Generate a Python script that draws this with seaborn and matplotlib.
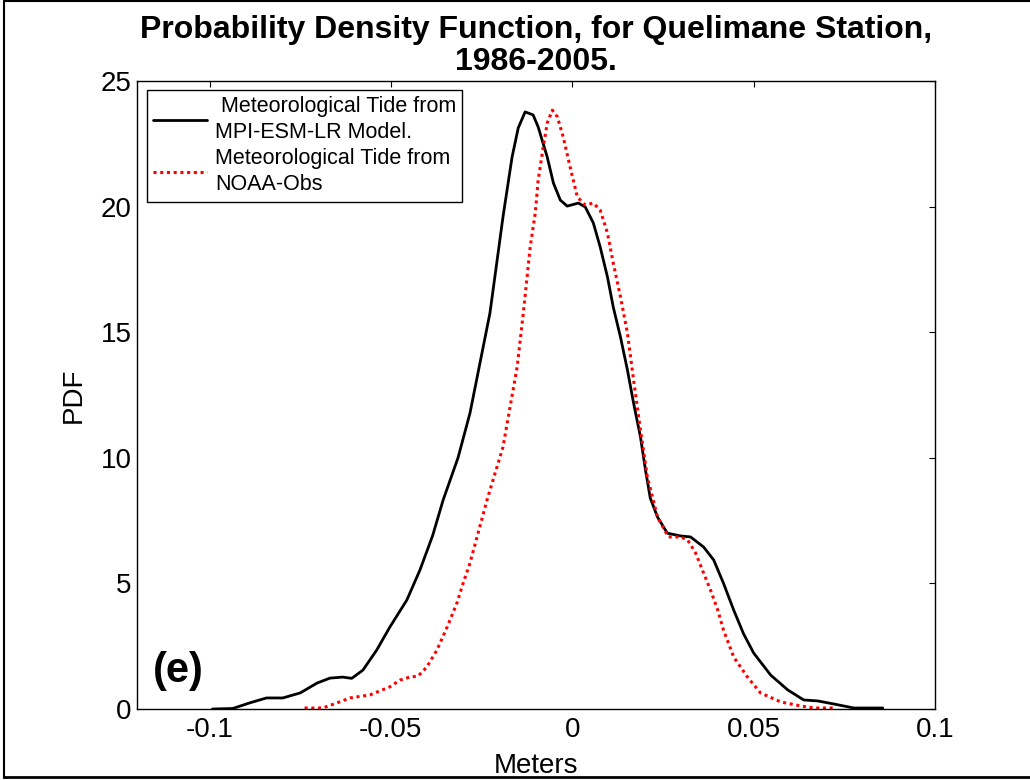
import matplotlib
matplotlib.use("Agg")
import matplotlib.pyplot as plt
from matplotlib.lines import Line2D
import seaborn as sns
import pandas as pd

# Model (MPI-ESM-LR) PDF
x_model = [-0.0992, -0.0936, -0.0890, -0.0843, -0.0798, -0.0750, -0.0704, -0.0668,
           -0.0633, -0.0608, -0.0577, -0.0539, -0.0503, -0.0456, -0.0420, -0.0385,
           -0.0356, -0.0315, -0.0282, -0.0227, -0.0191, -0.0166, -0.0149, -0.0130,
           -0.0108, -0.0094, -0.0069, -0.0052, -0.0033, -0.0014, 0.0017, 0.0036,
           0.0058, 0.0077, 0.0097, 0.0113, 0.0133, 0.0152, 0.0169, 0.0188, 0.0202,
           0.0215, 0.0235, 0.0262, 0.0298, 0.0326, 0.0362, 0.0390, 0.0417, 0.0445,
           0.0472, 0.0500, 0.0547, 0.0594, 0.0638, 0.0677, 0.0721, 0.0776, 0.0856]
pdf_model = [0.0, 0.02, 0.24, 0.44, 0.44, 0.64, 1.03, 1.23,
             1.27, 1.22, 1.55, 2.35, 3.26, 4.34, 5.53, 6.9,
             8.32, 10.0, 11.78, 15.76, 19.59, 21.97, 23.13, 23.77,
             23.65, 23.17, 21.97, 20.94, 20.26, 20.02, 20.14, 19.98,
             19.35, 18.39, 17.2, 16.0, 14.8, 13.5, 12.18, 10.83, 9.5,
             8.4, 7.64, 7.0, 6.89, 6.85, 6.45, 5.93, 5.0, 3.94,
             3.0, 2.23, 1.35, 0.76, 0.36, 0.32, 0.2, 0.04, 0.04]

# Observed (NOAA) PDF
x_obs = [-0.0738, -0.0688, -0.0649, -0.0613, -0.0558, -0.0503, -0.0475, -0.0448,
         -0.0425, -0.0401, -0.0373, -0.0345, -0.0318, -0.0301, -0.0282, -0.0235,
         -0.0191, -0.0152, -0.0135, -0.0116, -0.0102, -0.0094, -0.0080, -0.0069,
         -0.0055, -0.0041, -0.0025, -0.0006, 0.0014, 0.0036, 0.0058, 0.0077,
         0.0097, 0.0113, 0.0133, 0.0152, 0.0169, 0.0188, 0.0207, 0.0235, 0.0265,
         0.0298, 0.0318, 0.0340, 0.0362, 0.0381, 0.0401, 0.0417, 0.0445, 0.0483,
         0.0519, 0.0575, 0.0630, 0.0666, 0.0721]
pdf_obs = [0.04, 0.04, 0.24, 0.44, 0.56, 0.88, 1.15, 1.27,
           1.31, 1.67, 2.35, 3.26, 4.22, 5.0, 5.81, 8.32,
           10.43, 13.61, 15.76, 18.39, 19.75, 21.06, 22.37, 23.33,
           23.84, 23.57, 22.77, 21.58, 20.38, 20.06, 20.14, 19.86,
           18.95, 17.75, 16.4, 14.97, 13.1, 11.1, 9.24, 7.64, 6.85,
           6.85, 6.73, 6.21, 5.41, 4.74, 3.94, 3.14, 2.07, 1.27,
           0.64, 0.28, 0.12, 0.04, 0.04]

xticks = [-0.1, -0.05, 0, 0.05, 0.1]
xtick_labels = ["-0.1", "-0.05", "0", "0.05", "0.1"]
yticks = [0, 5, 10, 15, 20, 25]
label_model = " Meteorological Tide from\nMPI-ESM-LR Model."
label_obs = "Meteorological Tide from\nNOAA-Obs"

sns.set_style("white")
plt.rcParams['font.family'] = ['Liberation Sans', 'DejaVu Sans']
plt.rcParams['axes.unicode_minus'] = False
plt.rcParams['text.color'] = 'black'
plt.rcParams['axes.labelcolor'] = 'black'
plt.rcParams['xtick.color'] = 'black'
plt.rcParams['ytick.color'] = 'black'

fig = plt.figure(figsize=(10.3, 7.8), dpi=100)
ax = fig.add_axes([137/1030, 71/780, 798/1030, 628/780])

df_m = pd.DataFrame({"x": x_model, "y": pdf_model})
df_o = pd.DataFrame({"x": x_obs, "y": pdf_obs})
sns.lineplot(data=df_m, x="x", y="y", ax=ax, color="black", linewidth=2.0,
             sort=False, estimator=None)
sns.lineplot(data=df_o, x="x", y="y", ax=ax, color="red", linewidth=2.2,
             linestyle=(0, (1, 1.2)), sort=False, estimator=None)

ax.set_xlim(-0.12, 0.1)
ax.set_ylim(0, 25)
ax.set_xticks(xticks)
ax.set_xticklabels(xtick_labels)
ax.set_yticks(yticks)
ax.tick_params(direction="in", length=4, width=0.8, top=True, right=True,
               labelsize=20, colors="black")
ax.tick_params(axis="x", pad=6)
ax.tick_params(axis="y", pad=4)
for s in ax.spines.values():
    s.set_visible(True)
    s.set_color("black")
    s.set_linewidth(1.0)

ax.set_xlabel("Meters", fontsize=20, labelpad=7)
ax.set_ylabel("PDF", fontsize=20, labelpad=10)
ax.set_title("Probability Density Function, for Quelimane Station,\n1986-2005.",
             fontsize=23, fontweight="bold", pad=8, linespacing=1.08)

handles = [Line2D([0], [0], color="black", linewidth=2.0),
           Line2D([0], [0], color="red", linewidth=2.2, linestyle=(0, (1, 1.2)))]
leg = ax.legend(handles, [label_model, label_obs], loc="upper left",
                bbox_to_anchor=(0.0125, 0.986), fontsize=15.5, frameon=True,
                fancybox=False, edgecolor="black", framealpha=1,
                handlelength=2.5, handletextpad=0.35, borderpad=0.3,
                labelspacing=0.25, borderaxespad=0)
for t in leg.get_texts():
    t.set_linespacing(1.3)
leg.get_frame().set_linewidth(1.0)

ax.text(0.02, 0.028, "(e)", transform=ax.transAxes, fontsize=30,
        fontweight="bold", ha="left", va="bottom")

# figure frame
fig.add_artist(Line2D([0.004, 0.004], [0.003, 0.999], transform=fig.transFigure,
                      color="black", linewidth=1.5))
fig.add_artist(Line2D([0.004, 1.0], [0.999, 0.999], transform=fig.transFigure,
                      color="black", linewidth=1.5))
fig.add_artist(Line2D([0.004, 1.0], [0.004, 0.004], transform=fig.transFigure,
                      color="black", linewidth=2.0))

fig.savefig("out.png", dpi=100, facecolor="white")
